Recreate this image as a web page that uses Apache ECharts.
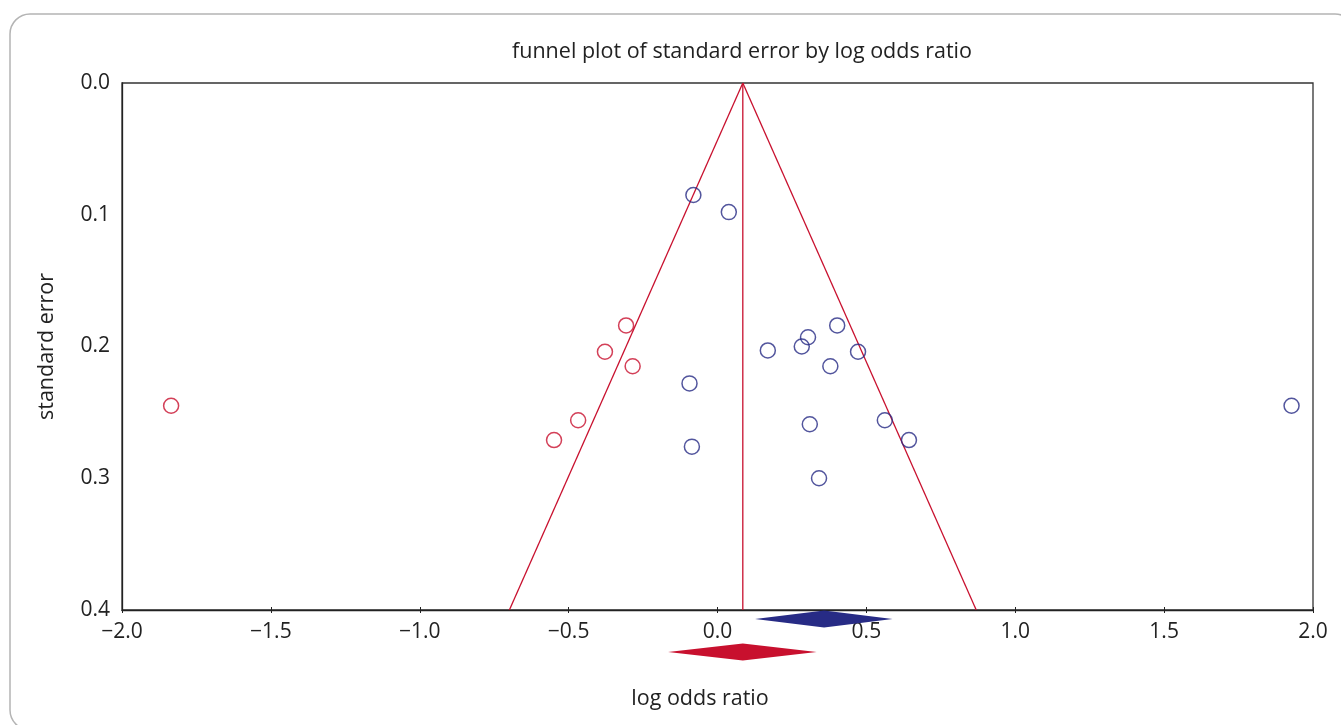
<!DOCTYPE html>
<html>
<head>
<meta charset="utf-8">
<script src="https://cdn.jsdelivr.net/npm/echarts@6/dist/echarts.min.js"></script>
<style>
html,body{margin:0;padding:0;background:#fff;}
#chart{width:1341px;height:725px;}
</style>
</head>
<body>
<div id="chart"></div>
<script>
// ---- data ----
const xTicks = [-2.0, -1.5, -1.0, -0.5, 0.0, 0.5, 1.0, 1.5, 2.0];
const yTicks = [0.0, 0.1, 0.2, 0.3, 0.4];
// observed studies: [log odds ratio, standard error]
const observed = [
  [-0.081, 0.085], [0.038, 0.098], [0.169, 0.203], [0.283, 0.200],
  [0.304, 0.193], [0.402, 0.184], [0.472, 0.204], [0.379, 0.215],
  [-0.094, 0.228], [0.310, 0.259], [0.562, 0.256], [0.643, 0.271],
  [-0.086, 0.276], [0.341, 0.300], [1.928, 0.245]
];
// imputed (filled) studies
const imputed = [
  [-0.307, 0.184], [-0.378, 0.204], [-0.285, 0.215],
  [-0.468, 0.256], [-0.549, 0.271], [-1.835, 0.245]
];
// pooled estimate (centre line) and funnel limits
const centreLine = [[0.085, 0.0], [0.085, 0.4]];
const funnelLeft = [[0.085, 0.0], [-0.699, 0.4]];
const funnelRight = [[0.085, 0.0], [0.869, 0.4]];
// summary diamonds: [lower, estimate, upper, row position on se scale]
const diamondObserved = [0.126, 0.358, 0.588, 0.4068];
const diamondAdjusted = [-0.166, 0.085, 0.333, 0.4318];

const BLUE = '#272b85';
const RED = '#c8102e';
const FONT = 'Open Sans';
const FS_TEXT = 21.5;
const FS_TICK = 21;

const chart = echarts.init(document.getElementById('chart'));

function diamondRender(d, color) {
  return function (params, api) {
    const l = api.coord([d[0], d[3]]);
    const c = api.coord([d[1], d[3]]);
    const r = api.coord([d[2], d[3]]);
    const h = 8.5;
    return {
      type: 'polygon',
      shape: { points: [[l[0], l[1]], [c[0], c[1] - h], [r[0], r[1]], [c[0], c[1] + h]] },
      style: { fill: color }
    };
  };
}

const fmtX = v => (v < 0 ? '\u2212' : '') + Math.abs(v).toFixed(1);

chart.setOption({
  animation: false,
  backgroundColor: '#fff',
  graphic: [{
    type: 'rect',
    shape: { x: 10, y: 14, width: 1345, height: 716, r: 20 },
    style: { fill: 'none', stroke: '#b4b4b4', lineWidth: 1.5 },
    z: -10, silent: true
  }],
  title: {
    text: 'funnel plot of standard error by log odds ratio',
    left: 737, top: 36, textAlign: 'center',
    textStyle: { fontFamily: FONT, fontSize: FS_TEXT, fontWeight: 'normal', color: '#222' }
  },
  grid: { left: 122, top: 83, right: 28, bottom: 115, show: true, borderColor: '#333', borderWidth: 1.3 },
  xAxis: [{
    type: 'value', min: -2, max: 2, interval: 0.5,
    name: 'log odds ratio', nameLocation: 'middle', nameGap: 78,
    nameTextStyle: { fontFamily: FONT, fontSize: FS_TEXT, color: '#222', padding: [0, 35, 0, 0] },
    axisLine: { show: true, onZero: false, lineStyle: { color: '#222', width: 1.3 } },
    axisTick: { show: true, inside: false, length: 3, lineStyle: { color: '#222' } },
    axisLabel: { fontFamily: FONT, fontSize: FS_TICK, color: '#222', margin: 12, formatter: fmtX },
    splitLine: { show: false }
  }, {
    type: 'value', min: -2, max: 2, interval: 0.5, position: 'bottom',
    axisLine: { show: false, onZero: false },
    axisTick: { show: true, inside: true, length: 3, lineStyle: { color: '#222' } },
    axisLabel: { show: false }, splitLine: { show: false }
  }],
  yAxis: {
    type: 'value', min: 0, max: 0.4, interval: 0.1, inverse: true,
    name: 'standard error', nameLocation: 'middle', nameGap: 64, nameRotate: 90,
    nameTextStyle: { fontFamily: FONT, fontSize: FS_TEXT, color: '#222' },
    axisLine: { show: true, onZero: false, lineStyle: { color: '#222', width: 1.3 } },
    axisTick: { show: false },
    axisLabel: { fontFamily: FONT, fontSize: FS_TICK, color: '#222', margin: 12, formatter: v => v.toFixed(1) },
    splitLine: { show: false }
  },
  series: [
    { type: 'line', data: funnelLeft, symbol: 'none', lineStyle: { color: RED, width: 1.3 }, z: 2 },
    { type: 'line', data: funnelRight, symbol: 'none', lineStyle: { color: RED, width: 1.3 }, z: 2 },
    { type: 'line', data: centreLine, symbol: 'none', lineStyle: { color: RED, width: 1.3 }, z: 2 },
    { type: 'scatter', data: observed, symbol: 'circle', symbolSize: 15,
      itemStyle: { color: 'rgba(255,255,255,0)', borderColor: BLUE, borderWidth: 1.5 }, z: 3 },
    { type: 'scatter', data: imputed, symbol: 'circle', symbolSize: 15,
      itemStyle: { color: 'rgba(255,255,255,0)', borderColor: RED, borderWidth: 1.5 }, z: 3 },
    { type: 'custom', renderItem: diamondRender(diamondObserved, BLUE), data: [0], clip: false, z: 4 },
    { type: 'custom', renderItem: diamondRender(diamondAdjusted, RED), data: [0], clip: false, z: 4 }
  ]
});
</script>
</body>
</html>
